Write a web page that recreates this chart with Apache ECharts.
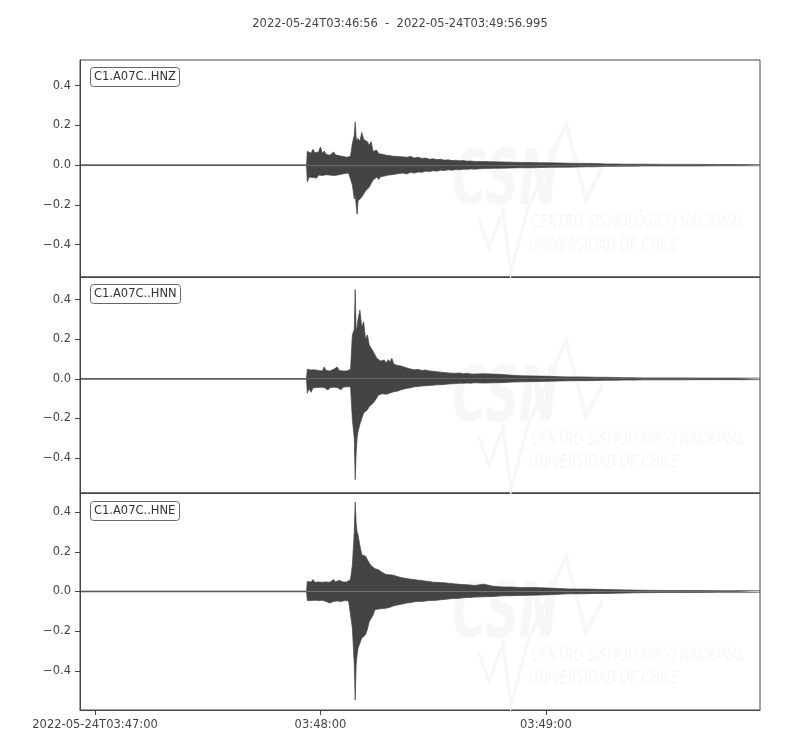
<!DOCTYPE html>
<html><head><meta charset="utf-8">
<script src="https://cdn.jsdelivr.net/npm/echarts@6/dist/echarts.min.js"></script>
<style>html,body{margin:0;padding:0;background:#fff}#chart{width:800px;height:750px}</style>
</head><body><div id="chart"></div>
<script>
// ---- data ----
const titleText = '2022-05-24T03:46:56  -  2022-05-24T03:49:56.995';
const duration = 180.995; // seconds from 03:46:56
const channels = ['C1.A07C..HNZ', 'C1.A07C..HNN', 'C1.A07C..HNE'];
const xTickSec = [4, 64, 124];
const xTickLabels = ['2022-05-24T03:47:00', '03:48:00', '03:49:00'];
const yTicks = [-0.4, -0.2, 0, 0.2, 0.4];
const yLimits = [[-0.563, 0.5295], [-0.577, 0.515], [-0.597, 0.496]];

const timeSec = [0, 60.3,
  60.5,61,61.5,62,62.5,63,63.5,64,64.5,65,65.5,66,66.5,67,67.5,68,68.5,69,69.5,70,70.5,71,71.5,72,
  72.5,73,73.25,73.5,73.75,74,
  74.5,75,75.5,76,76.5,77,77.5,78,78.5,79,79.5,80,80.5,81,81.5,82,82.5,83,83.5,84,84.5,85,85.5,86,
  87,88,89,90,91,92,93,94,95,96,97,98,99,100,101,102,103,104,105,
  107.5,110,112.5,115,117.5,120,122.5,125,127.5,130,132.5,135,137.5,140,142.5,145,147.5,150,
  155,160,165,170,175,180.99];

const hnzUpper = [0.002,0.002,
  0.070,0.076,0.060,0.080,0.062,0.058,0.066,0.092,0.060,0.071,0.055,0.062,0.050,0.060,0.066,0.052,0.056,0.048,0.050,0.044,0.046,0.040,0.042,0.045,
  0.110,0.150,0.218,0.140,0.120,0.135,
  0.120,0.165,0.130,0.126,0.118,0.100,0.118,0.070,0.062,0.075,0.058,0.068,0.055,0.062,0.050,0.060,0.048,0.056,0.045,0.052,0.044,0.050,0.042,0.046,
  0.040,0.044,0.036,0.040,0.034,0.036,0.030,0.032,0.028,0.030,0.025,0.027,0.023,0.025,0.022,0.023,0.020,0.021,0.019,
  0.018,0.017,0.016,0.015,0.014,0.013,0.012,0.012,0.011,0.010,0.009,0.009,0.008,0.006,0.006,0.005,0.005,0.005,
  0.004,0.004,0.004,0.003,0.003,0.003];
const hnzLower = [-0.002,-0.002,
  -0.084,-0.060,-0.070,-0.062,-0.055,-0.065,-0.050,-0.058,-0.052,-0.056,-0.048,-0.058,-0.050,-0.046,-0.052,-0.044,-0.050,-0.042,-0.046,-0.040,-0.042,-0.038,-0.040,-0.042,
  -0.100,-0.170,-0.150,-0.200,-0.247,-0.180,
  -0.190,-0.160,-0.150,-0.130,-0.126,-0.110,-0.100,-0.075,-0.070,-0.060,-0.072,-0.058,-0.065,-0.055,-0.062,-0.050,-0.058,-0.048,-0.052,-0.045,-0.050,-0.042,-0.046,-0.040,
  -0.044,-0.036,-0.040,-0.034,-0.036,-0.030,-0.032,-0.028,-0.030,-0.025,-0.027,-0.023,-0.025,-0.022,-0.023,-0.020,-0.021,-0.019,-0.020,
  -0.017,-0.016,-0.015,-0.014,-0.013,-0.013,-0.012,-0.011,-0.010,-0.010,-0.009,-0.008,-0.008,-0.006,-0.006,-0.005,-0.005,-0.004,
  -0.004,-0.004,-0.004,-0.003,-0.003,-0.003];

const hnnUpper = [0.002,0.002,
  0.049,0.040,0.045,0.038,0.046,0.040,0.042,0.048,0.040,0.060,0.042,0.046,0.040,0.044,0.048,0.040,0.060,0.042,0.046,0.040,0.044,0.040,0.045,0.048,
  0.222,0.250,0.452,0.247,0.260,0.300,
  0.348,0.260,0.289,0.200,0.222,0.170,0.180,0.140,0.150,0.104,0.100,0.090,0.085,0.095,0.080,0.097,0.085,0.104,0.075,0.080,0.068,0.062,0.065,0.058,
  0.055,0.050,0.046,0.048,0.042,0.045,0.040,0.038,0.036,0.034,0.032,0.030,0.029,0.028,0.030,0.026,0.028,0.025,0.024,
  0.026,0.024,0.022,0.018,0.016,0.015,0.014,0.013,0.011,0.010,0.010,0.009,0.008,0.008,0.007,0.006,0.006,0.005,
  0.005,0.005,0.004,0.004,0.004,0.004];
const hnnLower = [-0.002,-0.002,
  -0.072,-0.050,-0.068,-0.046,-0.052,-0.044,-0.050,-0.042,-0.048,-0.044,-0.050,-0.056,-0.045,-0.050,-0.042,-0.046,-0.044,-0.050,-0.055,-0.042,-0.046,-0.040,-0.044,-0.040,
  -0.207,-0.300,-0.509,-0.375,-0.300,-0.266,
  -0.230,-0.200,-0.173,-0.165,-0.156,-0.140,-0.131,-0.123,-0.110,-0.100,-0.081,-0.085,-0.075,-0.070,-0.078,-0.068,-0.072,-0.066,-0.065,-0.060,-0.062,-0.057,-0.055,-0.052,
  -0.048,-0.045,-0.040,-0.038,-0.036,-0.035,-0.034,-0.032,-0.030,-0.030,-0.028,-0.026,-0.025,-0.024,-0.022,-0.022,-0.021,-0.022,-0.020,
  -0.021,-0.020,-0.019,-0.016,-0.015,-0.014,-0.013,-0.012,-0.011,-0.010,-0.009,-0.009,-0.008,-0.007,-0.007,-0.006,-0.006,-0.005,
  -0.005,-0.005,-0.004,-0.004,-0.004,-0.004];

const hneUpper = [0.002,0.002,
  0.050,0.054,0.048,0.060,0.046,0.052,0.048,0.050,0.046,0.052,0.048,0.050,0.046,0.052,0.060,0.048,0.050,0.056,0.046,0.048,0.044,0.048,0.050,0.060,
  0.135,0.300,0.451,0.345,0.300,0.286,
  0.230,0.185,0.190,0.178,0.160,0.143,0.130,0.126,0.115,0.110,0.109,0.100,0.095,0.090,0.085,0.088,0.084,0.080,0.082,0.078,0.075,0.072,0.070,0.068,
  0.065,0.062,0.060,0.057,0.055,0.052,0.050,0.047,0.046,0.045,0.044,0.042,0.040,0.038,0.036,0.035,0.034,0.032,0.030,
  0.037,0.026,0.023,0.022,0.020,0.020,0.019,0.017,0.015,0.013,0.012,0.012,0.011,0.010,0.009,0.008,0.007,0.006,
  0.005,0.005,0.005,0.004,0.004,0.004];
const hneLower = [-0.002,-0.002,
  -0.045,-0.052,-0.046,-0.050,-0.044,-0.050,-0.046,-0.052,-0.044,-0.048,-0.050,-0.046,-0.058,-0.048,-0.050,-0.044,-0.048,-0.046,-0.050,-0.044,-0.046,-0.042,-0.048,-0.045,
  -0.185,-0.370,-0.546,-0.370,-0.320,-0.286,
  -0.260,-0.235,-0.225,-0.218,-0.190,-0.151,-0.143,-0.120,-0.092,-0.090,-0.088,-0.085,-0.086,-0.082,-0.084,-0.078,-0.080,-0.075,-0.072,-0.070,-0.068,-0.067,-0.064,-0.060,
  -0.058,-0.056,-0.052,-0.050,-0.050,-0.048,-0.046,-0.045,-0.044,-0.042,-0.040,-0.038,-0.036,-0.035,-0.034,-0.032,-0.030,-0.030,-0.028,
  -0.027,-0.025,-0.022,-0.021,-0.020,-0.019,-0.018,-0.016,-0.014,-0.012,-0.012,-0.011,-0.010,-0.010,-0.009,-0.008,-0.007,-0.006,
  -0.005,-0.005,-0.005,-0.004,-0.004,-0.004];

const traces = [[hnzUpper, hnzLower], [hnnUpper, hnnLower], [hneUpper, hneLower]];

// ---- layout / style ----
const FONT = 'DejaVu Sans';
const INK = '#444444';
const WAVE = '#444444';
const gridTops = [60, 277, 493];
const gridHeights = [217, 216, 217];

const grids = gridTops.map((t, i) => ({
  left: 80, width: 680, top: t, height: gridHeights[i],
  show: true, borderColor: INK, borderWidth: 1, backgroundColor: 'transparent'
}));

const xAxes = gridTops.map((t, i) => ({
  type: 'value', gridIndex: i, min: 0, max: duration,
  axisLine: { show: true, onZero: false, lineStyle: { color: INK, width: 1 } },
  splitLine: { show: false },
  axisTick: i === 2 ? { show: true, customValues: xTickSec, length: 5, lineStyle: { color: INK } } : { show: false },
  axisLabel: i === 2 ? {
    show: true, customValues: xTickSec, margin: 9, color: INK, fontFamily: FONT, fontSize: 11.5,
    formatter: v => {
      let k = 0, best = 1e9;
      xTickSec.forEach((s, j) => { if (Math.abs(s - v) < best) { best = Math.abs(s - v); k = j; } });
      return xTickLabels[k];
    }
  } : { show: false }
}));

const yAxes = gridTops.map((t, i) => ({
  type: 'value', gridIndex: i, min: yLimits[i][0], max: yLimits[i][1],
  axisLine: { show: true, onZero: false, lineStyle: { color: INK, width: 1 } },
  splitLine: { show: false },
  axisTick: { show: true, customValues: yTicks, length: 5, lineStyle: { color: INK } },
  axisLabel: {
    show: true, customValues: yTicks, margin: 9, color: INK, fontFamily: FONT, fontSize: 11.5,
    formatter: v => (Math.abs(v) < 1e-9 ? '0.0' : v.toFixed(1)).replace('-', '\u2212')
  }
}));

const series = [];
traces.forEach((pair, i) => {
  pair.forEach(vals => {
    series.push({
      type: 'line', xAxisIndex: i, yAxisIndex: i, z: 3,
      data: timeSec.map((t, k) => [t, vals[k]]),
      showSymbol: false, symbol: 'none', silent: true, animation: false,
      lineStyle: { color: WAVE, width: 0.7 },
      areaStyle: { color: WAVE, opacity: 1, origin: 0 }
    });
  });
});

const titles = [{
  text: titleText, left: 'center', top: 13,
  textStyle: { fontFamily: FONT, fontSize: 11.5, fontWeight: 'normal', color: INK }
}];
const labelTops = [67, 284, 501];
channels.forEach((c, i) => {
  titles.push({
    text: c, left: 90, top: labelTops[i], padding: [3, 4, 3, 4],
    borderColor: '#666', borderWidth: 1, borderRadius: 3, backgroundColor: '#fff',
    textStyle: { fontFamily: FONT, fontSize: 11.5, fontWeight: 'normal', color: '#333', lineHeight: 14 }
  });
});

// faint CSN watermark in each panel
const WM = '#f7f7f7';
const graphics = [];
gridTops.forEach(t => {
  graphics.push(
    { type: 'text', x: 452, y: t + 86, scaleX: 0.62, z: 1, silent: true,
      style: { text: 'CSN', font: 'italic bold 76px DejaVu Sans', fill: WM } },
    { type: 'polyline', z: 1, silent: true,
      shape: { points: [[528, t + 148], [566, t + 64], [586, t + 140], [602, t + 108]] },
      style: { stroke: WM, lineWidth: 4, fill: null } },
    { type: 'polyline', z: 1, silent: true,
      shape: { points: [[478, t + 158], [489, t + 188], [503, t + 150], [511, t + 212], [528, t + 148]] },
      style: { stroke: WM, lineWidth: 3, fill: null } },
    { type: 'text', x: 531, y: t + 154, scaleX: 0.66, z: 1, silent: true,
      style: { text: 'CENTRO SISMOLÓGICO NACIONAL', font: 'italic 19px DejaVu Sans', fill: WM } },
    { type: 'text', x: 529, y: t + 177, scaleX: 0.66, z: 1, silent: true,
      style: { text: 'UNIVERSIDAD DE CHILE', font: 'italic 19px DejaVu Sans', fill: WM } }
  );
});

const chart = echarts.init(document.getElementById('chart'), null, { renderer: 'canvas', width: 800, height: 750 });
chart.setOption({
  backgroundColor: '#ffffff',
  animation: false,
  title: titles,
  grid: grids,
  xAxis: xAxes,
  yAxis: yAxes,
  series: series,
  graphic: { elements: graphics }
});
</script>
</body></html>
